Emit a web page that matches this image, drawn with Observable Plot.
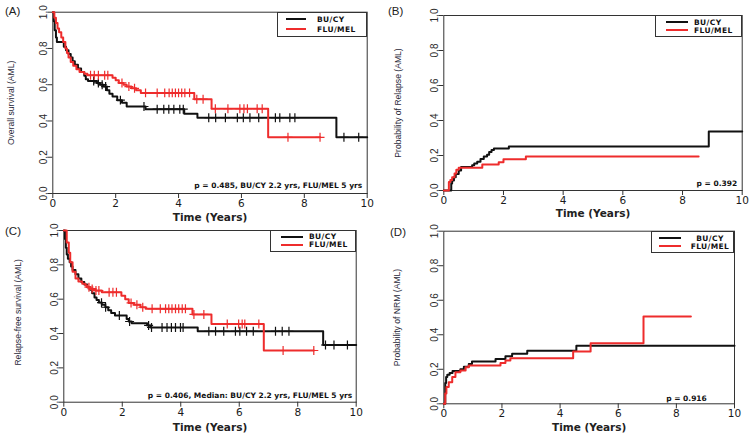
<!DOCTYPE html>
<html><head><meta charset="utf-8">
<script src="https://cdn.jsdelivr.net/npm/d3@7"></script>
<script src="https://cdn.jsdelivr.net/npm/@observablehq/plot@0.6"></script>
<style>
body{margin:0;background:#fff;}
#wrap{position:relative;width:755px;height:437px;overflow:hidden;font-family:"Liberation Sans",Arial,sans-serif;}
.panel{position:absolute;}
.plab{position:absolute;font-size:11.5px;color:#222;font-family:"Liberation Sans",Arial,sans-serif;}
.legend{position:absolute;border:1px solid #333;background:#fff;box-sizing:border-box;font:bold 7.5px "DejaVu Sans",sans-serif;letter-spacing:0.4px;color:#111;}
.legend .sw{position:absolute;height:0;border-top:2px solid;}
.legend .tx{position:absolute;line-height:7.5px;height:7.5px;white-space:nowrap;}
</style></head>
<body><div id="wrap"></div>
<script>
// ---------- data ----------
const groups = ["BU/CY", "FLU/MEL"];
const groupColors = ["#111111", "#ee2c2c"];
const yearTicks = [0, 2, 4, 6, 8, 10];
const probTicks = [0, 0.2, 0.4, 0.6, 0.8, 1.0];
const panelLetters = ["(A)", "(B)", "(C)", "(D)"];
const yTitles = ["Overall survival (AML)", "Probability of Relapse (AML)", "Relapse-free survival (AML)", "Probability of NRM (AML)"];
const xTitle = "Time (Years)";
const pTexts = ["p = 0.485, BU/CY 2.2 yrs, FLU/MEL 5 yrs", "p = 0.392", "p = 0.406, Median: BU/CY 2.2 yrs, FLU/MEL 5 yrs", "p = 0.916"];

// (A) overall survival: [time, probability]
const osBuCy = [[0,1],[0.03,0.95],[0.06,0.9],[0.1,0.86],[0.13,0.835],[0.35,0.81],[0.42,0.79],[0.5,0.77],[0.57,0.75],[0.63,0.73],[0.7,0.71],[0.8,0.69],[0.9,0.67],[1.0,0.65],[1.05,0.63],[1.12,0.62],[1.4,0.61],[1.5,0.6],[1.62,0.59],[1.72,0.57],[1.8,0.55],[1.9,0.535],[2.05,0.515],[2.2,0.5],[2.35,0.48],[2.95,0.465],[4.18,0.44],[4.6,0.418],[9.02,0.31],[10,0.31]];
const osBuCyCensor = [1.3,1.45,1.57,1.68,2.15,2.9,3.32,3.53,3.69,3.85,4.04,4.15,4.96,5.18,5.49,5.87,6.06,6.27,6.55,7.08,7.22,7.54,7.7,9.26,9.73];
const osFluMel = [[0,1],[0.05,0.97],[0.1,0.94],[0.15,0.91],[0.2,0.89],[0.27,0.86],[0.33,0.835],[0.4,0.8],[0.45,0.775],[0.5,0.75],[0.57,0.725],[0.65,0.705],[0.75,0.685],[0.85,0.67],[1.0,0.66],[1.1,0.652],[1.9,0.638],[2.0,0.625],[2.1,0.61],[2.25,0.6],[2.35,0.59],[2.5,0.58],[2.65,0.57],[2.8,0.555],[4.5,0.52],[5.05,0.468],[6.85,0.31],[8.5,0.31]];
const osFluMelCensor = [1.2,1.32,1.45,1.65,1.75,2.2,2.42,2.6,2.95,3.32,3.56,3.7,3.8,3.9,4.0,4.1,4.2,4.35,4.58,4.78,5.17,5.57,5.95,6.08,6.19,6.5,6.66,7.48,8.5];

// (B) cumulative incidence of relapse
const relBuCy = [[0,0],[0.25,0.04],[0.28,0.057],[0.34,0.076],[0.4,0.095],[0.5,0.114],[0.58,0.135],[0.95,0.145],[1.02,0.155],[1.12,0.165],[1.23,0.18],[1.34,0.195],[1.45,0.205],[1.52,0.22],[1.6,0.232],[1.68,0.24],[2.18,0.252],[8.88,0.337],[10,0.337]];
const relFluMel = [[0,0],[0.17,0.048],[0.22,0.06],[0.28,0.076],[0.36,0.097],[0.42,0.118],[0.5,0.13],[1.29,0.148],[1.84,0.162],[2.0,0.178],[2.75,0.194],[8.54,0.194]];

// (C) relapse-free survival
const rfsBuCy = [[0,1],[0.04,0.95],[0.07,0.9],[0.1,0.86],[0.14,0.835],[0.2,0.815],[0.25,0.79],[0.3,0.77],[0.4,0.745],[0.5,0.72],[0.6,0.7],[0.7,0.685],[0.8,0.67],[0.9,0.655],[0.97,0.635],[1.05,0.61],[1.12,0.595],[1.2,0.58],[1.3,0.568],[1.42,0.553],[1.52,0.536],[1.62,0.52],[1.75,0.505],[2.15,0.485],[2.22,0.47],[2.32,0.46],[2.85,0.447],[2.96,0.435],[4.58,0.413],[8.87,0.333],[10,0.333]];
const rfsBuCyCensor = [1.29,1.43,1.9,2.25,2.9,3.0,3.36,3.53,3.68,3.82,3.99,4.08,4.96,5.19,5.47,5.87,6.02,6.25,6.48,7.24,7.47,7.7,8.95,9.24,9.7];
const rfsFluMel = [[0,1],[0.1,0.93],[0.17,0.87],[0.22,0.815],[0.3,0.76],[0.4,0.72],[0.5,0.703],[0.63,0.69],[0.74,0.68],[0.8,0.67],[0.9,0.66],[1.08,0.65],[1.3,0.64],[1.97,0.62],[2.1,0.6],[2.22,0.578],[2.4,0.567],[2.62,0.553],[2.8,0.544],[4.4,0.511],[5.05,0.456],[6.84,0.301],[8.55,0.301]];
const rfsFluMelCensor = [0.86,0.97,1.1,1.2,1.55,1.68,1.8,2.3,2.5,2.7,3.02,3.3,3.48,3.59,3.7,3.82,3.93,4.05,4.16,4.45,4.79,5.59,5.98,6.1,6.19,6.67,7.5,8.55];

// (D) cumulative incidence of NRM
const nrmBuCy = [[0,0],[0.05,0.12],[0.08,0.155],[0.12,0.168],[0.2,0.178],[0.3,0.19],[0.57,0.2],[0.69,0.215],[0.86,0.23],[0.97,0.245],[1.78,0.26],[2.12,0.275],[2.35,0.29],[2.87,0.307],[4.56,0.336],[10,0.336]];
const nrmFluMel = [[0,0],[0.05,0.06],[0.09,0.097],[0.17,0.125],[0.29,0.155],[0.4,0.183],[0.57,0.193],[0.75,0.212],[0.86,0.222],[1.95,0.237],[2.12,0.251],[2.29,0.264],[4.45,0.303],[5.05,0.351],[6.87,0.506],[8.5,0.506]];

// ---------- layout ----------
const layouts = [
  {left:0,   top:0,   w:380, h:225, ml:52.3, mr:13.3, mt:11.7, mb:32,   yDx:-41.3, yDy:0,  xDy:24,   pAnchor:"end",   pDx:-5,  pDy:-8,
   legend:{left:277, top:12, w:90, h:25, sw:[8,28], rows:[7.3,17], tx:39, center:false}},
  {left:375, top:0,   w:380, h:225, ml:68.3, mr:13.3, mt:15,   mb:35,   yDx:-45.3, yDy:0,  xDy:23.5, pAnchor:"end",   pDx:-5,  pDy:-7.3,
   legend:{left:655, top:15, w:87, h:22, sw:[10,32], rows:[7,15], tx:38, center:false}},
  {left:0,   top:215, w:380, h:222, ml:63.3, mr:24.3, mt:15,   mb:35.3, yDx:-45.8, yDy:-4, xDy:25.3, pAnchor:"end",   pDx:-4,  pDy:-6.7,
   legend:{left:270, top:230, w:86, h:22, sw:[10,32], rows:[6.7,14.7], tx:38, center:false}},
  {left:375, top:215, w:380, h:222, ml:68.3, mr:21,   mt:15.7, mb:33.7, yDx:-46.3, yDy:0,  xDy:23.7, pAnchor:"middle", pDx:-48, pDy:-5.6,
   legend:{left:651, top:231, w:83, h:22, sw:[7,29], rows:[7,15], tx:58, center:true}}
];
const letterPos = [[5,5],[388,5],[5,225],[390,226]];

const panels = [
  [osBuCy, osFluMel, osBuCyCensor, osFluMelCensor],
  [relBuCy, relFluMel, [], []],
  [rfsBuCy, rfsFluMel, rfsBuCyCensor, rfsFluMelCensor],
  [nrmBuCy, nrmFluMel, [], []]
];

function stepAt(curve, t) {
  let s = curve[0][1];
  for (const [ti, si] of curve) { if (ti <= t) s = si; else break; }
  return s;
}

const wrap = document.getElementById("wrap");

panels.forEach(([c0, c1, k0, k1], i) => {
  const L = layouts[i];
  const lines = [
    ...c0.map(([t, s]) => ({t, s, g: groups[0]})),
    ...c1.map(([t, s]) => ({t, s, g: groups[1]}))
  ];
  const cens = [
    ...k0.map(t => ({t, s: stepAt(c0, t), g: groups[0]})),
    ...k1.map(t => ({t, s: stepAt(c1, t), g: groups[1]}))
  ];
  const chart = Plot.plot({
    width: L.w, height: L.h,
    marginLeft: L.ml, marginRight: L.mr, marginTop: L.mt, marginBottom: L.mb,
    style: {background: "transparent", overflow: "visible", color: "#222"},
    x: {domain: [0, 10]},
    y: {domain: [0, 1]},
    color: {domain: groups, range: groupColors},
    marks: [
      Plot.axisX({ticks: yearTicks, tickSize: 5, tickPadding: 1, label: null, fontSize: 10.5, fontFamily: "DejaVu Sans", stroke: "#333", fill: "#1a1a1a"}),
      Plot.axisY({ticks: probTicks, tickSize: 5, tickPadding: 1, tickRotate: -90, tickFormat: d3.format(".1f"), label: null, fontSize: 10, fontFamily: "Liberation Sans", stroke: "#333", fill: "#2a2a2a"}),
      Plot.frame({stroke: "#333", strokeWidth: 1}),
      Plot.line(lines, {x: "t", y: "s", z: "g", stroke: "g", curve: "step-after", strokeWidth: 2}),
      Plot.dot(cens, {x: "t", y: "s", stroke: "g", symbol: "plus", r: 3, strokeWidth: 1.2}),
      Plot.text([xTitle], {frameAnchor: "bottom", textAnchor: "middle", lineAnchor: "middle", dy: L.xDy, fontWeight: "bold", fontSize: 10.5, fontFamily: "DejaVu Sans", fill: "#222"}),
      Plot.text([yTitles[i]], {frameAnchor: "left", textAnchor: "middle", lineAnchor: "middle", dx: L.yDx, dy: L.yDy, rotate: -90, fontSize: 8.6, fontFamily: "Liberation Sans", fill: "#2a2a3a"}),
      Plot.text([pTexts[i]], {frameAnchor: "bottom-right", textAnchor: L.pAnchor, lineAnchor: "middle", dx: L.pDx, dy: L.pDy, fontWeight: "bold", fontSize: 7.5, fontFamily: "DejaVu Sans", fill: "#111"})
    ]
  });
  const div = document.createElement("div");
  div.className = "panel";
  div.style.left = L.left + "px";
  div.style.top = L.top + "px";
  div.appendChild(chart);
  wrap.appendChild(div);

  const lab = document.createElement("div");
  lab.className = "plab";
  lab.style.left = letterPos[i][0] + "px";
  lab.style.top = letterPos[i][1] + "px";
  lab.textContent = panelLetters[i];
  wrap.appendChild(lab);

  const lg = L.legend;
  const box = document.createElement("div");
  box.className = "legend";
  box.style.left = lg.left + "px"; box.style.top = lg.top + "px";
  box.style.width = lg.w + "px"; box.style.height = lg.h + "px";
  groups.forEach((g, j) => {
    const sw = document.createElement("div");
    sw.className = "sw";
    sw.style.left = lg.sw[0] + "px";
    sw.style.width = (lg.sw[1] - lg.sw[0]) + "px";
    sw.style.top = (lg.rows[j] - 2) + "px";
    sw.style.borderColor = groupColors[j];
    box.appendChild(sw);
    const tx = document.createElement("div");
    tx.className = "tx";
    tx.textContent = g;
    tx.style.top = (lg.rows[j] - 4.5) + "px";
    if (lg.center) { tx.style.left = (lg.tx - 30) + "px"; tx.style.width = "60px"; tx.style.textAlign = "center"; }
    else tx.style.left = lg.tx + "px";
    box.appendChild(tx);
  });
  wrap.appendChild(box);
});
</script>
</body></html>
